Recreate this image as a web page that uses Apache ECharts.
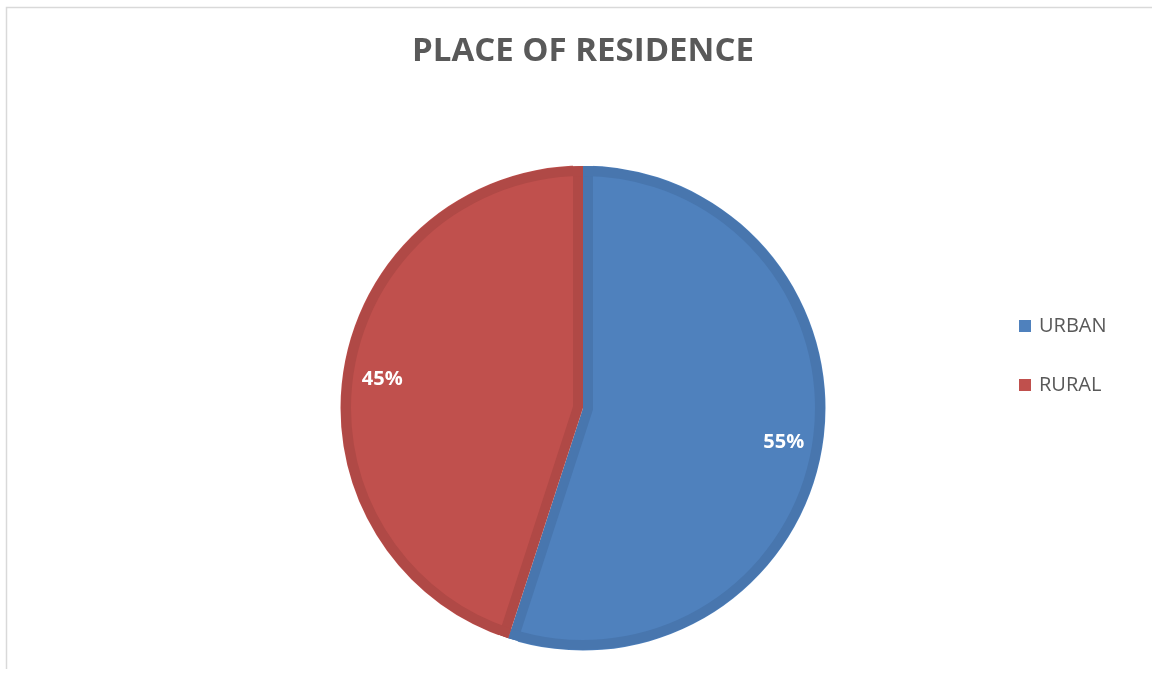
<!DOCTYPE html>
<html>
<head>
<meta charset="utf-8">
<title>Place of Residence</title>
<script src="https://cdn.jsdelivr.net/npm/echarts@6/dist/echarts.min.js"></script>
<style>
  html, body { margin: 0; padding: 0; background: #ffffff; }
  #chart { width: 1152px; height: 675px; }
</style>
</head>
<body>
<div id="chart"></div>
<script>
// Residence split, in percent
const categories = ['URBAN', 'RURAL'];
const shares = [55, 45];

// Slice colours: face and the darker bevelled rim
const faceColors = ['#4F81BD', '#C0504D'];
const rimColors = ['#4876AE', '#B04946'];

// Pie geometry (pixels)
const CENTER = [583, 408];
const RADIUS = 242;
const RIM = 10;

const total = shares.reduce((a, b) => a + b, 0);

// Apex of the inset face of slice i: moved along the slice bisector so that
// both straight edges sit RIM pixels inside the slice edges.
function faceApex(i) {
  const before = shares.slice(0, i).reduce((a, b) => a + b, 0);
  const start = before / total * 2 * Math.PI;
  const span = shares[i] / total * 2 * Math.PI;
  const mid = start + span / 2;
  const d = RIM / Math.sin(span / 2);
  return [CENTER[0] + d * Math.sin(mid), CENTER[1] - d * Math.cos(mid)];
}

function sliceData(colorFor) {
  return categories.map((name, i) => ({
    name: name,
    value: shares[i],
    itemStyle: { color: colorFor(i), borderWidth: 0 }
  }));
}

const common = {
  type: 'pie',
  startAngle: 90,
  clockwise: true,
  silent: true,
  animation: false,
  label: { show: false },
  labelLine: { show: false },
  emphasis: { disabled: true },
  itemStyle: { borderWidth: 0 }
};

const series = [];

// Dark rim colour under everything
series.push(Object.assign({}, common, {
  name: 'rim',
  center: CENTER,
  radius: RADIUS,
  data: sliceData(i => rimColors[i])
}));

// Lighter faces, one series per slice
categories.forEach((_, k) => {
  series.push(Object.assign({}, common, {
    name: 'face-' + k,
    center: faceApex(k),
    radius: RADIUS + RIM,
    data: sliceData(i => (i === k ? faceColors[i] : 'rgba(0,0,0,0)'))
  }));
});

// Outer rim band
series.push(Object.assign({}, common, {
  name: 'outer-rim',
  center: CENTER,
  radius: [RADIUS - RIM, RADIUS],
  data: sliceData(i => rimColors[i])
}));

// White surround trimming the faces to the circle
series.push(Object.assign({}, common, {
  name: 'surround',
  center: CENTER,
  radius: [RADIUS + 0.5, RADIUS + 4 * RIM],
  data: sliceData(() => '#ffffff')
}));

// Percentage labels
series.push(Object.assign({}, common, {
  name: 'labels',
  center: CENTER,
  radius: [RADIUS * 0.655, RADIUS],
  data: sliceData(() => 'rgba(0,0,0,0)'),
  label: {
    show: true,
    position: 'inside',
    formatter: '{c}%',
    offset: [0, 3],
    color: '#ffffff',
    fontFamily: 'Open Sans',
    fontWeight: 'bold',
    fontSize: 20
  }
}));

const chart = echarts.init(document.getElementById('chart'), null, { renderer: 'canvas' });

chart.setOption({
  backgroundColor: '#ffffff',
  animation: false,
  legend: {
    orient: 'vertical',
    left: 1014,
    top: 311,
    icon: 'rect',
    itemWidth: 12,
    itemHeight: 12,
    itemGap: 39,
    selectedMode: false,
    textStyle: {
      fontFamily: 'Open Sans',
      fontSize: 20,
      color: '#595959',
      padding: [0, 0, 0, 3]
    },
    data: categories.map((name, i) => ({ name: name, itemStyle: { color: faceColors[i] } }))
  },
  graphic: [{
    type: 'polyline',
    silent: true,
    shape: { points: [[6.5, 669], [6.5, 7.5], [1152, 7.5]] },
    style: { stroke: '#d9d9d9', lineWidth: 1.5, fill: null }
  }, {
    type: 'text',
    silent: true,
    x: 583,
    y: 52,
    style: {
      text: 'PLACE OF RESIDENCE',
      align: 'center',
      verticalAlign: 'middle',
      fontFamily: 'Open Sans',
      fontWeight: 'bold',
      fontSize: 33,
      fill: '#595959'
    }
  }],
  series: series
});
</script>
</body>
</html>
